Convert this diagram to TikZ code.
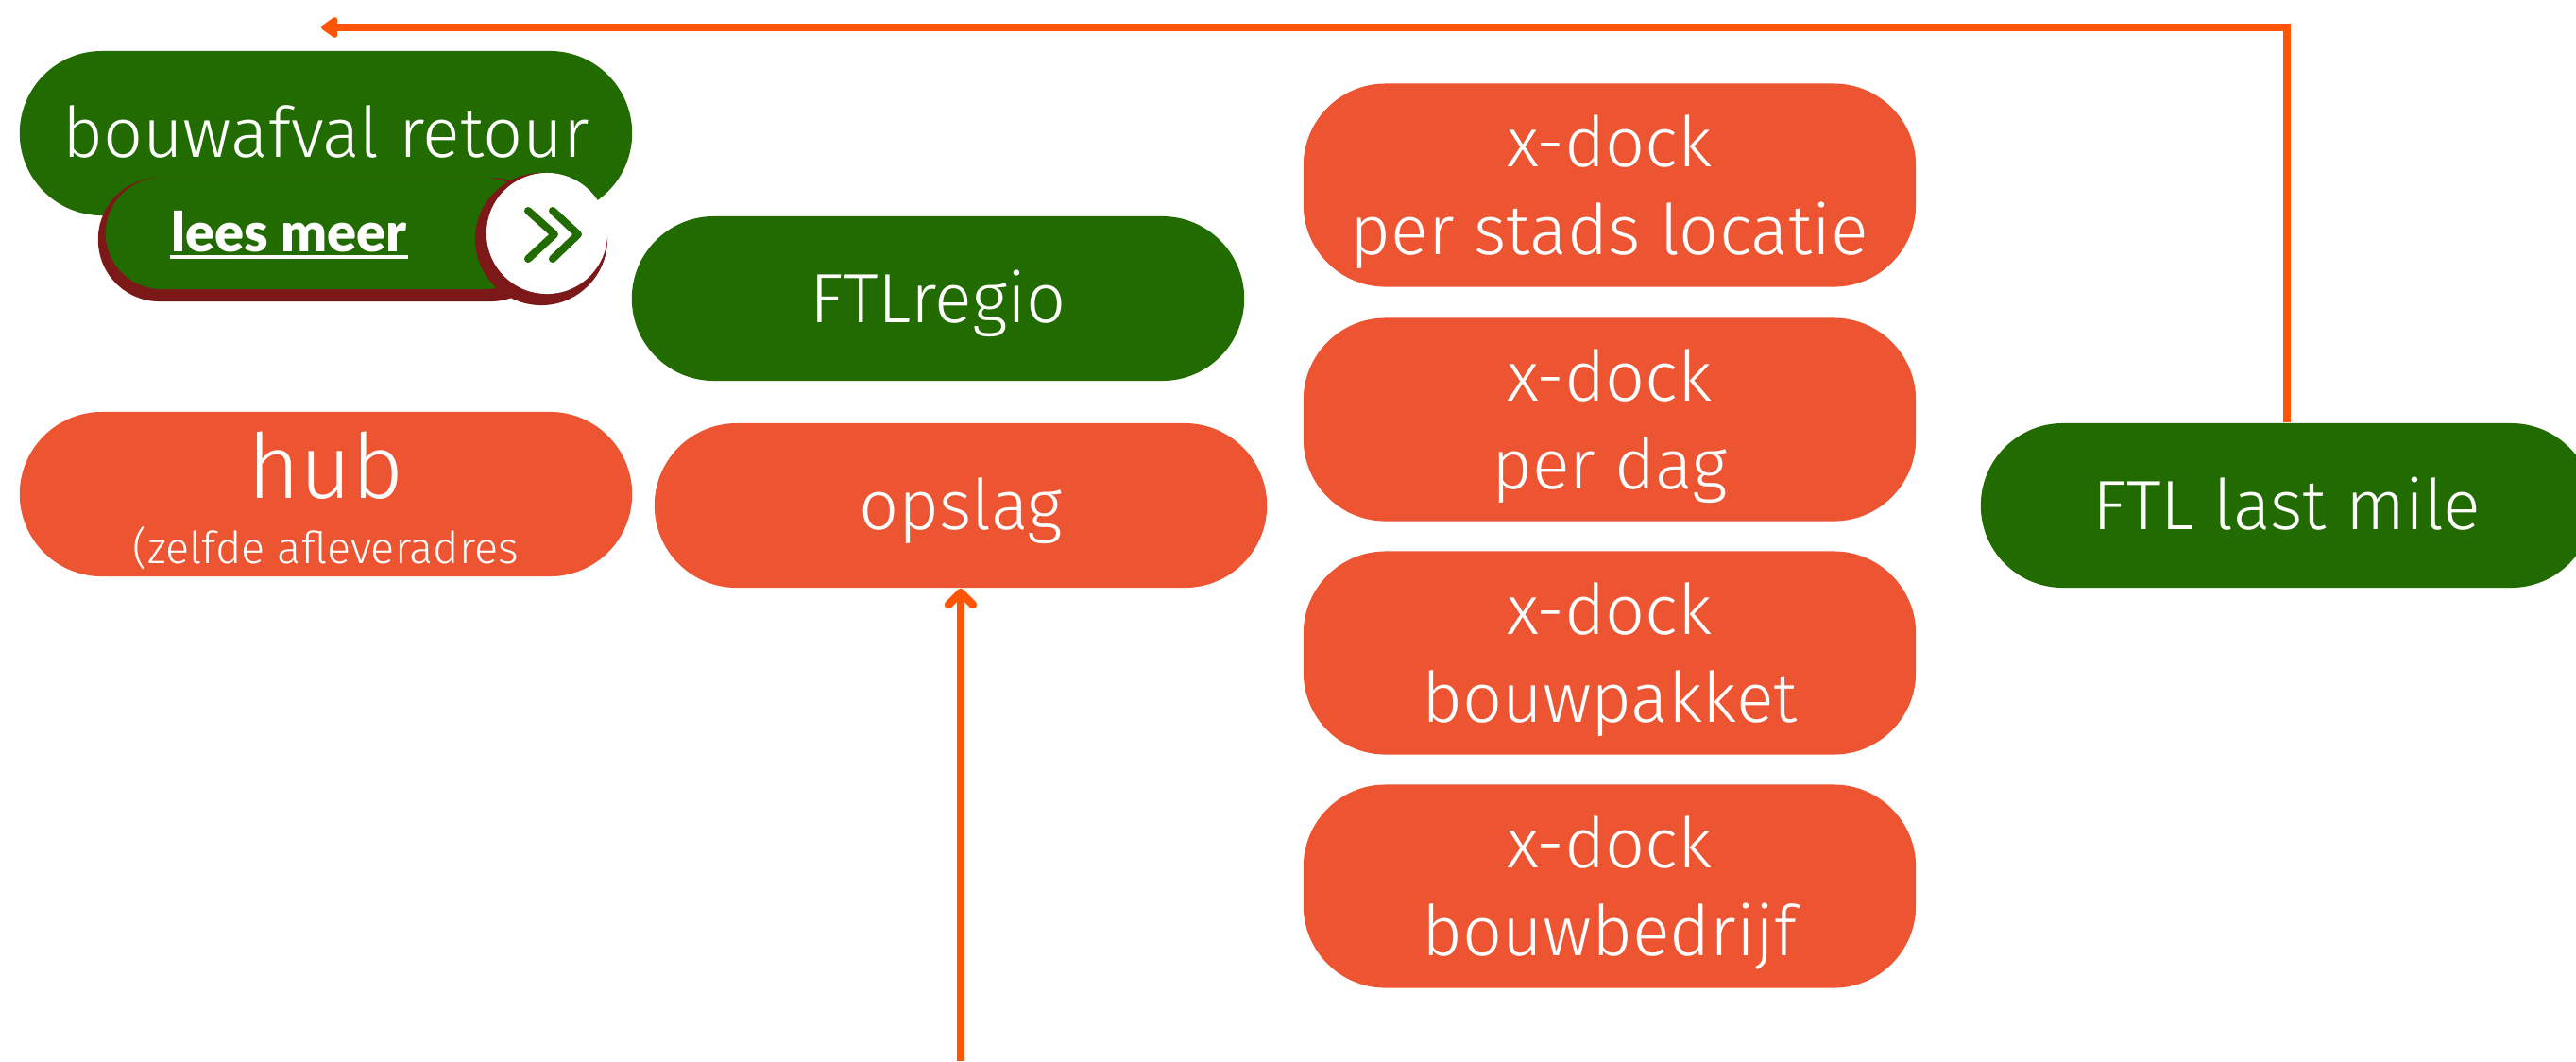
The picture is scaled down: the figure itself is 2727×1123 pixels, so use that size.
\documentclass[tikz,border=0pt]{standalone}
\usepackage{fontspec}
\setmainfont{Fira Sans Light}
\newfontfamily\leesfont{Lato Black}
\usepackage{tikz}
\usetikzlibrary{arrows.meta}
\definecolor{bosgroen}{RGB}{33,107,0}
\definecolor{steen}{RGB}{237,85,50}
\definecolor{pijl}{RGB}{255,85,5}
\definecolor{donkerrood}{RGB}{125,24,24}
\tikzset{
  pil/.style={draw=none, text=white, inner sep=0pt, minimum width=6.48cm, minimum height=1.74cm, rounded corners=0.87cm, align=center, font=\fontsize{21}{26.5}\selectfont},
  eenregel/.style={pil, text height=0.8cm, text depth=0.3cm},
  xdock/.style={pil, minimum height=2.15cm, fill=steen, text height=1.7cm, text depth=0.23cm},
  pijlijn/.style={draw=pijl, line width=0.085cm},
}

\begin{document}
\begin{tikzpicture}[x=0.01cm, y=-0.01cm]
      \useasboundingbox (0, 0) rectangle (2727, 1123);
      \node[eenregel, fill=bosgroen] (retour) at (345, 141) {bouwafval retour};
      \node[eenregel, fill=bosgroen] (regio) at (993, 316) {FTLregio};
      \node[eenregel, fill=steen] (opslag) at (1017, 535) {opslag};
      \node[eenregel, fill=bosgroen] (lastmile) at (2421, 535) {FTL last mile};
      \node[pil, fill=steen, text height=1.6cm, text depth=0.14cm] (hub) at (345, 523) {{\fontsize{27}{26}\selectfont hub}\\[-7pt]{\fontsize{13.3}{16}\selectfont (zelfde afleveradres}};
      \foreach \y/\regel [count=\i] in {196/per stads locatie, 444/per dag, 691/bouwpakket, 938/bouwbedrijf} {
        \node[xdock] (dock\i) at (1704, \y) {x-dock\\\regel};
      }
      % lees meer knop
      \node[fill=donkerrood, inner sep=0pt, minimum width=4.8cm, minimum height=1.31cm, rounded corners=0.65cm] (knopschaduw) at (344, 253.5) {};
      \node[fill=bosgroen, inner sep=0pt, minimum width=4.6cm, minimum height=1.18cm, rounded corners=0.59cm] (knop) at (342, 247) {};
      \node[circle, fill=donkerrood, inner sep=0pt, minimum size=1.4cm] (rondschaduw) at (573, 253) {};
      \node[circle, fill=white, inner sep=0pt, minimum size=1.28cm] (rond) at (579, 247) {};
      \draw[bosgroen, line width=0.08cm, line cap=round, line join=round] (559, 223) -- (587, 248) -- (559, 274);
      \draw[bosgroen, line width=0.08cm, line cap=round, line join=round] (585, 223) -- (612, 248) -- (585, 274);
      \node[text=white, inner sep=0pt, font=\leesfont\fontsize{16.4}{18}\selectfont, anchor=base] (lees) at (306, 266) {lees meer};
      \draw[white, line width=0.04cm] (180, 272) -- (432, 272);
      % pijlen
      \coordinate (links) at (340, 29);
      \coordinate (onder) at (1017, 1123);
      \draw[pijlijn, -{Triangle[length=0.19cm, width=0.25cm, round, line width=0.06cm]}] (lastmile.north) |- (links);
      \draw[pijlijn, -{Straight Barb[length=0.13cm, width=0.26cm, round]}] (onder) -- (opslag.south);
    \end{tikzpicture}
\end{document}
